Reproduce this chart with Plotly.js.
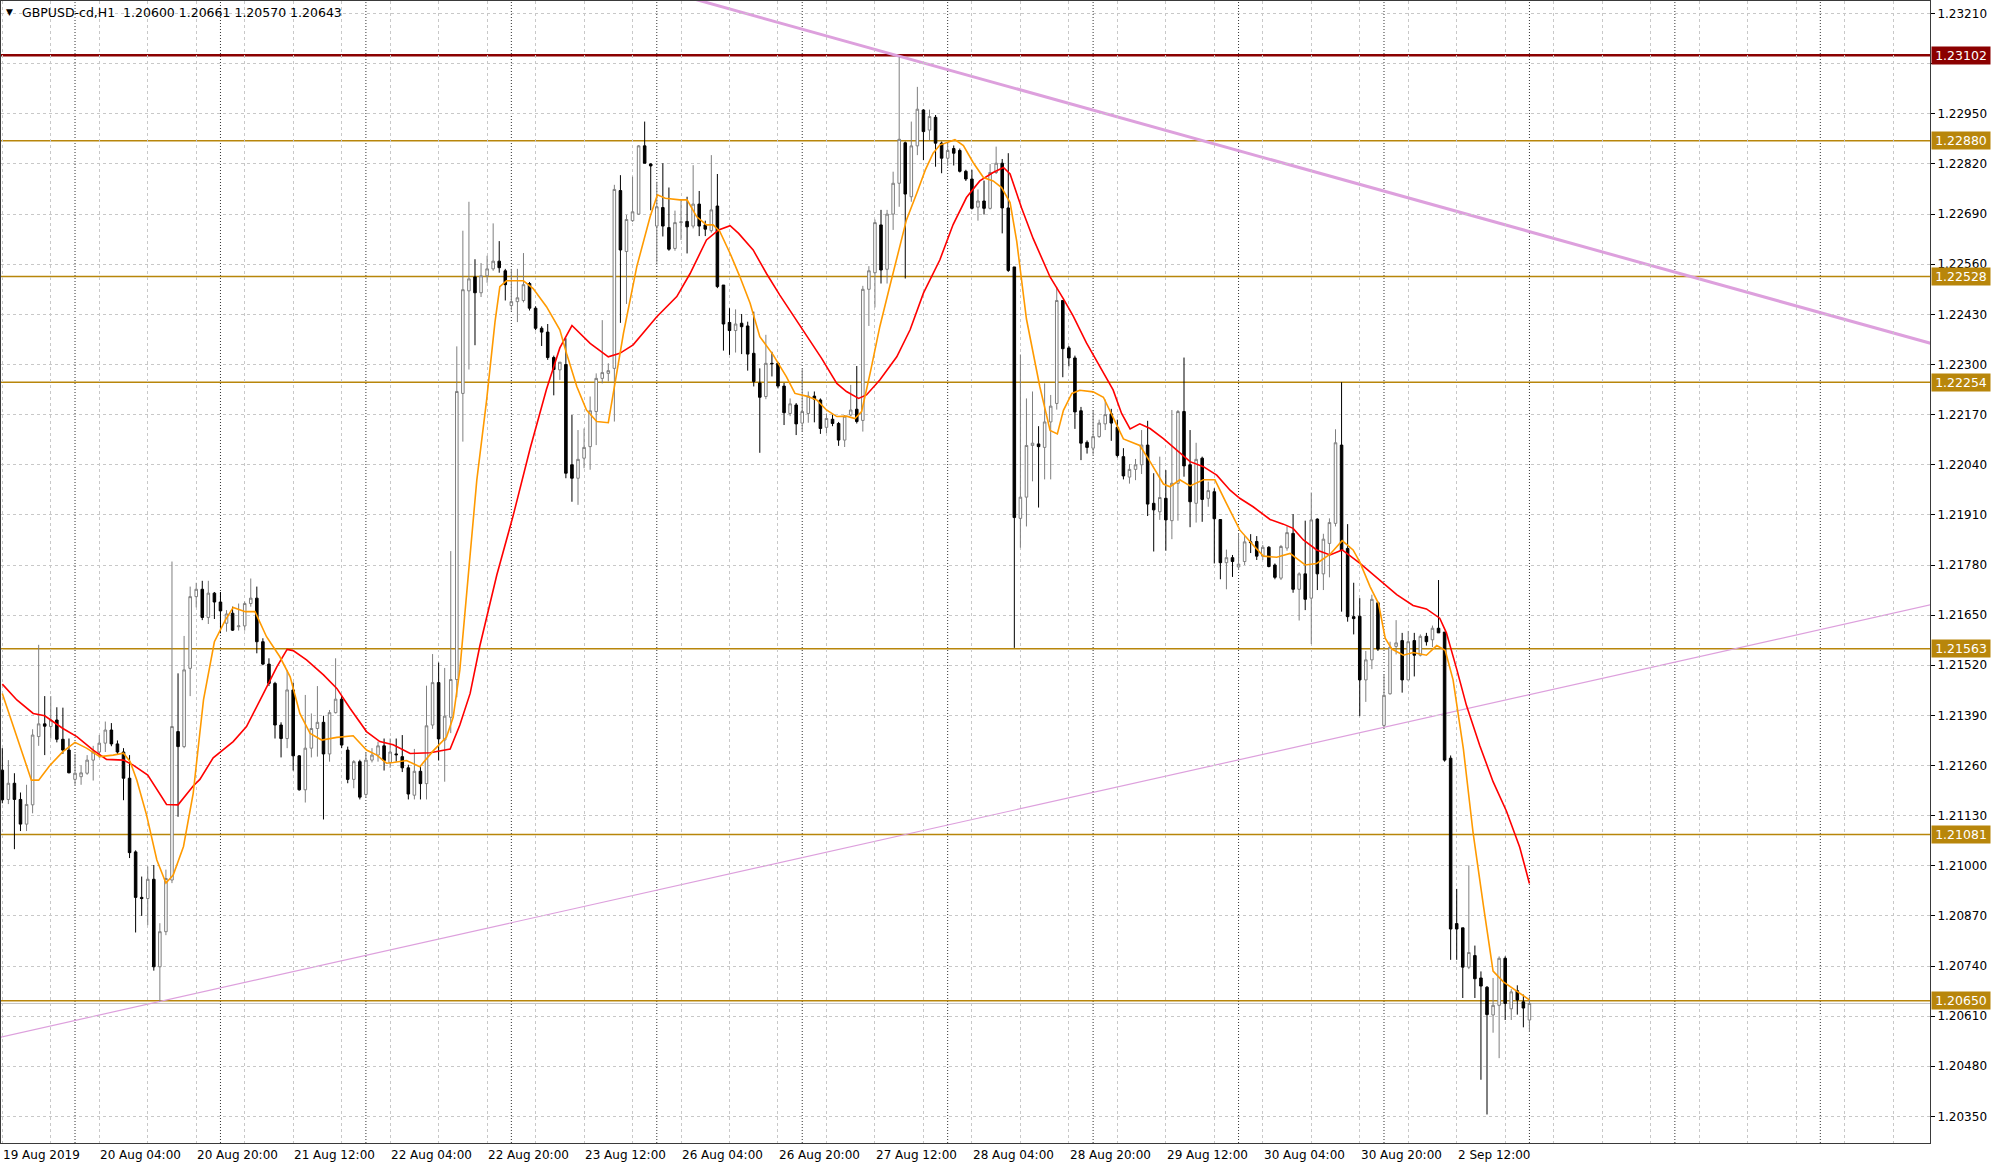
<!DOCTYPE html>
<html>
<head>
<meta charset="utf-8">
<script src="https://cdn.plot.ly/plotly-3.0.1.min.js"></script>
<style>
  html, body { margin: 0; padding: 0; background: #ffffff; }
  #chart { width: 2000px; height: 1169px; }
</style>
</head>
<body>
<div id="chart"></div>
<script>
// ---------------- DATA (GBPUSD-cd, H1; bar 0 = 19 Aug 2019 12:00) ----------------
const openPrices = [
1.21248,1.21172,1.21214,1.21172,1.21108,1.21158,1.21335,1.21368,1.21361,1.21378,
1.21328,1.21300,1.21224,1.21231,1.21240,1.21274,1.21295,1.21318,1.21352,1.21316,
1.21295,1.21227,1.21036,1.20918,1.20915,1.20965,1.20738,1.20829,1.20963,1.21348,
1.21309,1.21512,1.21698,1.21717,1.21644,1.21707,1.21684,1.21629,1.21655,1.21620,
1.21622,1.21680,1.21694,1.21581,1.21523,1.21473,1.21365,1.21330,1.21456,1.21285,
1.21197,1.21305,1.21356,1.21372,1.21290,1.21397,1.21432,1.21300,1.21224,1.21270,
1.21185,1.21274,1.21287,1.21311,1.21268,1.21290,1.21283,1.21254,1.21183,1.21245,
1.21213,1.21365,1.21475,1.21326,1.21385,1.21483,1.22225,1.22491,1.22527,1.22486,
1.22530,1.22548,1.22568,1.22543,1.22453,1.22463,1.22466,1.22510,1.22446,1.22394,
1.22384,1.22318,1.22286,1.22300,1.22040,1.22005,1.22057,1.22087,1.22178,1.22264,
1.22277,1.22290,1.22751,1.22593,1.22673,1.22690,1.22867,1.22820,1.22659,1.22707,
1.22655,1.22601,1.22668,1.22671,1.22659,1.22716,1.22662,1.22647,1.22711,1.22506,
1.22409,1.22388,1.22407,1.22400,1.22329,1.22252,1.22217,1.22303,1.22303,1.22244,
1.22173,1.22195,1.22148,1.22173,1.22218,1.22208,1.22137,1.22158,1.22147,1.22104,
1.22169,1.22184,1.22155,1.22495,1.22538,1.22662,1.22547,1.22690,1.22770,1.22875,
1.22735,1.22867,1.22960,1.22908,1.22941,1.22874,1.22835,1.22860,1.22855,1.22801,
1.22781,1.22708,1.22724,1.22705,1.22798,1.22822,1.22706,1.22553,1.21901,1.21956,
1.22090,1.22094,1.22085,1.22151,1.22199,1.22466,1.22343,1.22317,1.22180,1.22098,
1.22083,1.22113,1.22146,1.22172,1.22137,1.22061,1.22008,1.22028,1.22040,1.22091,
1.21940,1.21918,1.21953,1.21895,1.21992,1.22178,1.22040,1.21940,1.22057,1.21953,
1.21970,1.21898,1.21786,1.21799,1.21775,1.21789,1.21840,1.21841,1.21803,1.21826,
1.21780,1.21746,1.21824,1.21862,1.21717,1.21757,1.21694,1.21899,1.21757,1.21836,
1.21888,1.22091,1.21823,1.21646,1.21647,1.21482,1.21534,1.21682,1.21364,1.21446,
1.21569,1.21584,1.21482,1.21584,1.21546,1.21595,1.21586,1.21616,1.21606,1.21279,
1.20850,1.20839,1.20737,1.20767,1.20709,1.20685,1.20613,1.20638,1.20760,1.20629,
1.20676,1.20647,1.20600];

const highPrices = [
1.21305,1.21274,1.21240,1.21190,1.21210,1.21354,1.21573,1.21440,1.21440,1.21411,
1.21410,1.21330,1.21290,1.21260,1.21287,1.21311,1.21339,1.21374,1.21370,1.21325,
1.21305,1.21287,1.21040,1.20972,1.20998,1.21002,1.20851,1.20990,1.21789,1.21499,
1.21596,1.21724,1.21734,1.21739,1.21739,1.21710,1.21710,1.21663,1.21672,1.21680,
1.21685,1.21745,1.21724,1.21590,1.21538,1.21477,1.21372,1.21508,1.21475,1.21287,
1.21443,1.21395,1.21466,1.21389,1.21404,1.21538,1.21440,1.21309,1.21274,1.21275,
1.21293,1.21305,1.21322,1.21330,1.21330,1.21330,1.21339,1.21262,1.21303,1.21260,
1.21467,1.21549,1.21527,1.21513,1.21816,1.22347,1.22647,1.22722,1.22573,1.22563,
1.22582,1.22666,1.22620,1.22548,1.22548,1.22548,1.22589,1.22514,1.22451,1.22399,
1.22405,1.22323,1.22306,1.22368,1.22169,1.22130,1.22134,1.22217,1.22277,1.22415,
1.22303,1.22766,1.22791,1.22688,1.22787,1.22869,1.22930,1.22822,1.22774,1.22822,
1.22759,1.22699,1.22727,1.22735,1.22817,1.22750,1.22673,1.22843,1.22794,1.22506,
1.22446,1.22443,1.22431,1.22411,1.22437,1.22290,1.22377,1.22333,1.22307,1.22252,
1.22212,1.22200,1.22288,1.22230,1.22230,1.22212,1.22173,1.22170,1.22151,1.22169,
1.22247,1.22296,1.22504,1.22555,1.22676,1.22701,1.22701,1.22800,1.23097,1.22878,
1.22930,1.23020,1.22962,1.22961,1.22947,1.22878,1.22873,1.22868,1.22860,1.22805,
1.22805,1.22754,1.22777,1.22820,1.22865,1.22833,1.22848,1.22553,1.22326,1.22212,
1.22230,1.22140,1.22251,1.22221,1.22501,1.22466,1.22348,1.22323,1.22190,1.22103,
1.22181,1.22157,1.22209,1.22185,1.22157,1.22083,1.22042,1.22055,1.22130,1.22154,
1.22018,1.22061,1.22026,1.22182,1.22182,1.22318,1.22130,1.22097,1.22061,1.21996,
1.21979,1.21898,1.21820,1.21806,1.21862,1.21855,1.21860,1.21855,1.21832,1.21829,
1.21784,1.21832,1.21880,1.21912,1.21761,1.21895,1.21968,1.21901,1.21861,1.21901,
1.22132,1.22254,1.21886,1.21734,1.21694,1.21557,1.21703,1.21685,1.21496,1.21581,
1.21637,1.21604,1.21609,1.21604,1.21600,1.21604,1.21623,1.21741,1.21606,1.21286,
1.20940,1.20839,1.21001,1.20793,1.20726,1.20688,1.20709,1.20765,1.20765,1.20680,
1.20690,1.20666,1.20661];

const lowPrices = [
1.21162,1.21160,1.21043,1.21090,1.21090,1.21136,1.21311,1.21287,1.21330,1.21320,
1.21290,1.21240,1.21210,1.21210,1.21236,1.21221,1.21280,1.21295,1.21310,1.21290,
1.21170,1.21020,1.20827,1.20870,1.20846,1.20728,1.20648,1.20820,1.20955,1.21127,
1.21305,1.21440,1.21670,1.21637,1.21627,1.21640,1.21603,1.21607,1.21609,1.21610,
1.21610,1.21672,1.21551,1.21520,1.21466,1.21330,1.21281,1.21305,1.21247,1.21195,
1.21164,1.21281,1.21283,1.21120,1.21270,1.21395,1.21305,1.21214,1.21201,1.21172,
1.21178,1.21268,1.21270,1.21247,1.21254,1.21270,1.21243,1.21172,1.21172,1.21172,
1.21172,1.21355,1.21273,1.21218,1.21344,1.21437,1.22100,1.22287,1.22350,1.22475,
1.22512,1.22543,1.22538,1.22466,1.22440,1.22410,1.22461,1.22440,1.22389,1.22348,
1.22312,1.22220,1.22260,1.22005,1.21944,1.21936,1.22031,1.22027,1.22091,1.22251,
1.22256,1.22152,1.22408,1.22457,1.22670,1.22688,1.22822,1.22700,1.22564,1.22632,
1.22595,1.22595,1.22623,1.22588,1.22653,1.22633,1.22633,1.22642,1.22498,1.22336,
1.22325,1.22331,1.22327,1.22284,1.22243,1.22071,1.22210,1.22269,1.22238,1.22143,
1.22166,1.22117,1.22126,1.22149,1.22150,1.22120,1.22122,1.22140,1.22089,1.22086,
1.22166,1.22147,1.22126,1.22400,1.22448,1.22510,1.22510,1.22649,1.22709,1.22523,
1.22722,1.22843,1.22830,1.22882,1.22813,1.22796,1.22815,1.22816,1.22798,1.22776,
1.22702,1.22673,1.22689,1.22702,1.22794,1.22640,1.22540,1.21565,1.21825,1.21880,
1.21997,1.21929,1.22002,1.22002,1.22183,1.22267,1.22295,1.22133,1.22052,1.22069,
1.22066,1.22110,1.22130,1.22102,1.22059,1.22002,1.21991,1.22000,1.22016,1.21907,
1.21815,1.21897,1.21817,1.21847,1.21895,1.22009,1.21878,1.21890,1.21892,1.21931,
1.21784,1.21743,1.21717,1.21749,1.21767,1.21780,1.21811,1.21793,1.21793,1.21774,
1.21743,1.21741,1.21817,1.21708,1.21636,1.21663,1.21575,1.21715,1.21715,1.21748,
1.21880,1.21659,1.21633,1.21600,1.21388,1.21425,1.21510,1.21557,1.21359,1.21444,
1.21548,1.21449,1.21482,1.21491,1.21543,1.21571,1.21567,1.21604,1.21270,1.20756,
1.20756,1.20657,1.20732,1.20657,1.20445,1.20355,1.20567,1.20501,1.20600,1.20600,
1.20614,1.20581,1.20570];

const closePrices = [
1.21171,1.21214,1.21172,1.21108,1.21159,1.21339,1.21368,1.21362,1.21378,1.21328,
1.21300,1.21241,1.21240,1.21241,1.21274,1.21295,1.21318,1.21352,1.21316,1.21295,
1.21227,1.21034,1.20918,1.20915,1.20965,1.20738,1.20829,1.20967,1.21361,1.21309,
1.21508,1.21698,1.21717,1.21644,1.21707,1.21684,1.21661,1.21653,1.21611,1.21622,
1.21680,1.21694,1.21581,1.21523,1.21473,1.21365,1.21330,1.21456,1.21285,1.21197,
1.21305,1.21356,1.21372,1.21290,1.21397,1.21432,1.21313,1.21224,1.21270,1.21178,
1.21274,1.21287,1.21311,1.21273,1.21295,1.21288,1.21254,1.21186,1.21245,1.21213,
1.21363,1.21475,1.21329,1.21388,1.21483,1.22230,1.22494,1.22522,1.22486,1.22530,
1.22548,1.22568,1.22551,1.22507,1.22463,1.22473,1.22507,1.22446,1.22394,1.22384,
1.22318,1.22287,1.22306,1.22018,1.22005,1.22054,1.22085,1.22180,1.22264,1.22279,
1.22284,1.22754,1.22597,1.22676,1.22696,1.22867,1.22822,1.22815,1.22709,1.22659,
1.22599,1.22668,1.22670,1.22657,1.22716,1.22659,1.22651,1.22701,1.22502,1.22405,
1.22388,1.22405,1.22398,1.22327,1.22256,1.22215,1.22303,1.22302,1.22244,1.22175,
1.22198,1.22146,1.22178,1.22218,1.22210,1.22134,1.22160,1.22147,1.22104,1.22166,
1.22182,1.22152,1.22495,1.22543,1.22668,1.22545,1.22690,1.22770,1.22884,1.22742,
1.22867,1.22962,1.22904,1.22943,1.22874,1.22835,1.22855,1.22848,1.22801,1.22781,
1.22705,1.22724,1.22705,1.22798,1.22822,1.22706,1.22544,1.21903,1.21956,1.22090,
1.22096,1.22087,1.22151,1.22192,1.22466,1.22341,1.22317,1.22177,1.22096,1.22085,
1.22113,1.22148,1.22170,1.22148,1.22064,1.22011,1.22028,1.22040,1.22091,1.21938,
1.21923,1.21955,1.21897,1.21992,1.22178,1.22037,1.21944,1.22054,1.21950,1.21973,
1.21900,1.21786,1.21799,1.21789,1.21782,1.21840,1.21838,1.21803,1.21826,1.21776,
1.21748,1.21828,1.21864,1.21717,1.21757,1.21691,1.21897,1.21757,1.21847,1.21890,
1.22097,1.21819,1.21646,1.21641,1.21482,1.21534,1.21691,1.21562,1.21442,1.21567,
1.21578,1.21482,1.21581,1.21546,1.21595,1.21581,1.21616,1.21604,1.21274,1.20836,
1.20836,1.20737,1.20775,1.20707,1.20688,1.20614,1.20638,1.20760,1.20643,1.20673,
1.20652,1.20631,1.20643];

// fast moving average (orange): bar index / value
const fastMABars = [0,1.3,2.9,4.8,6,7.9,10,12,13.9,16.1,18.3,20,21.1,22.2,23.8,25.5,27,28.2,29.9,31.5,
32.6,33.2,35,36.8,38.1,40.1,41.7,43.6,45.8,47.5,49.1,50.8,52.7,55.2,57.9,60.1,61.8,63.4,64.5,66.7,
68.9,71.1,73.3,74.4,75.5,76.9,78.3,79.9,81.3,82.1,83.2,86,87.6,89.8,92,93.1,94.8,96.4,98.1,100,
101.1,102.5,104.7,106.9,108.1,109.4,111.8,113,114.6,116.2,117.3,118.4,120.1,121.7,123.4,125,127.2,129.4,130.8,132.7,
134.4,136,137.7,139.3,140.7,141.8,143.2,144.8,146.5,148.1,149.2,150.9,152.3,153.6,154.7,157.2,158.6,160.2,161.9,163.5,
164.9,166.3,167.4,169,171.2,172.9,174.1,175.1,176.5,177.8,180,181.7,183.3,185,187.7,189.4,191.6,192.7,194.3,196,
198.2,200.1,202,204.2,206.4,208.1,210.3,212.5,215,216.9,219.1,221.1,222.9,224,225.7,227.1,228.2,229.3,231.2,232.8,
235,236.7,238.1,239.4,241.1,242.7,244.4,246,247.7,249.9,252];
const fastMAValues = [1.21447,1.21387,1.21309,1.21222,1.21222,1.21261,1.21296,1.21320,1.21305,1.21283,1.21287,1.21292,1.21270,1.21222,1.21132,1.21015,1.20955,1.20976,1.21050,1.21188,
1.21345,1.21430,1.21581,1.21637,1.21670,1.21659,1.21659,1.21594,1.21542,1.21490,1.21395,1.21343,1.21326,1.21333,1.21337,1.21300,1.21287,1.21266,1.21268,1.21273,
1.21257,1.21298,1.21334,1.21385,1.21508,1.21754,1.22000,1.22205,1.22410,1.22502,1.22517,1.22517,1.22497,1.22450,1.22390,1.22329,1.22243,1.22182,1.22152,1.22149,
1.22251,1.22381,1.22554,1.22683,1.22740,1.22731,1.22727,1.22727,1.22683,1.22662,1.22662,1.22645,1.22588,1.22528,1.22459,1.22372,1.22325,1.22268,1.22225,1.22218,
1.22208,1.22182,1.22165,1.22166,1.22160,1.22178,1.22277,1.22398,1.22506,1.22606,1.22675,1.22744,1.22804,1.22848,1.22869,1.22883,1.22868,1.22824,1.22785,1.22776,
1.22759,1.22720,1.22619,1.22418,1.22243,1.22129,1.22120,1.22181,1.22225,1.22233,1.22229,1.22215,1.22164,1.22107,1.22090,1.22048,1.21990,1.21983,1.22001,1.21985,
1.22001,1.22001,1.21940,1.21871,1.21832,1.21803,1.21800,1.21810,1.21780,1.21784,1.21808,1.21843,1.21819,1.21788,1.21724,1.21680,1.21590,1.21562,1.21546,1.21553,
1.21546,1.21571,1.21559,1.21482,1.21303,1.21086,1.20897,1.20727,1.20699,1.20676,1.20652];

// slow moving average (red)
const slowMABars = [0,2.4,5.1,7,10,12.3,15,17.2,20,21.6,24,26,27.1,29,30.4,31.5,32.6,34.8,38.1,40.3,
43.1,45.3,47,48,50.2,53,55.2,57.4,60.1,62.3,64.5,67.3,70.6,73.9,75.5,77.2,78.8,81.6,84.3,87.1,
89.8,92,94,97,100,101.9,104.1,108,111.3,113.5,116.2,118.2,120.1,121.5,123.9,126.1,128.3,130.5,132.7,135.2,
137.7,139.3,141.3,142.6,144.8,147.6,149.8,152,154.7,156.9,159.1,161.3,163.5,165.2,166.3,168.2,170.1,172.9,175.1,176.7,
178.9,181.1,183.3,184.7,186.1,187.7,189.4,191.6,193.8,196,198.2,200.4,202.6,204.2,206.4,209.2,211.4,213,214.7,216.9,
219.1,221.1,224,227.3,230.1,232.8,235,237.2,238.3,240,241.6,243.8,246,248.2,250.4,252];
const slowMAValues = [1.21471,1.21430,1.21395,1.21389,1.21356,1.21335,1.21300,1.21276,1.21274,1.21261,1.21235,1.21188,1.21159,1.21158,1.21184,1.21207,1.21224,1.21280,1.21322,1.21361,
1.21447,1.21516,1.21561,1.21558,1.21534,1.21495,1.21460,1.21408,1.21348,1.21322,1.21314,1.21291,1.21293,1.21303,1.21365,1.21447,1.21570,1.21754,1.21908,1.22082,
1.22236,1.22343,1.22401,1.22355,1.22320,1.22329,1.22351,1.22424,1.22476,1.22536,1.22623,1.22649,1.22660,1.22640,1.22597,1.22536,1.22480,1.22428,1.22377,1.22316,
1.22251,1.22230,1.22212,1.22221,1.22260,1.22320,1.22390,1.22485,1.22571,1.22663,1.22733,1.22776,1.22798,1.22811,1.22794,1.22706,1.22627,1.22527,1.22470,1.22426,
1.22356,1.22295,1.22234,1.22173,1.22133,1.22146,1.22134,1.22108,1.22078,1.22048,1.22035,1.22013,1.21974,1.21953,1.21931,1.21898,1.21886,1.21875,1.21845,1.21819,
1.21806,1.21819,1.21785,1.21741,1.21703,1.21675,1.21666,1.21642,1.21604,1.21510,1.21416,1.21312,1.21218,1.21142,1.21048,1.20954];

// horizontal levels drawn on the chart
const levelPrices = [1.23102, 1.22880, 1.22528, 1.22254, 1.21563, 1.21081, 1.20650];
const levelIsMajor = [true, false, false, false, false, false, false];
const bidPrice = 1.20643;

// trend lines (bar index, price)
const trendUpperBars = [110, 320];
const trendUpperPrices = [1.23266, 1.22347];
const trendLowerBars = [-1, 320];
const trendLowerPrices = [1.20553, 1.21683];

// price scale ticks
const priceTicks = [1.20350,1.20480,1.20610,1.20740,1.20870,1.21000,1.21130,1.21260,1.21390,1.21520,1.21650,
  1.21780,1.21910,1.22040,1.22170,1.22300,1.22430,1.22560,1.22690,1.22820,1.22950,1.23080,1.23210];
const priceTickText = ['1.20350','1.20480','1.20610','1.20740','1.20870','1.21000','1.21130','1.21260','1.21390','1.21520','1.21650',
  '1.21780','1.21910','1.22040','1.22170','1.22300','1.22430','1.22560','1.22690','1.22820','1.22950','','1.23210'];

// time scale labels (bar index)
const timeLabelBars = [0,16,32,48,64,80,96,112,128,144,160,176,192,208,224,240];
const timeLabels = ['19 Aug 2019','20 Aug 04:00','20 Aug 20:00','21 Aug 12:00','22 Aug 04:00','22 Aug 20:00',
  '23 Aug 12:00','26 Aug 04:00','26 Aug 20:00','27 Aug 12:00','28 Aug 04:00','28 Aug 20:00','29 Aug 12:00',
  '30 Aug 04:00','30 Aug 20:00','2 Sep 12:00'];
const daySeparatorBars = [12,36,60,84,108,132,156,180,204,228,252,276,300];
const gridBars = [0,8,16,24,32,40,48,56,64,72,80,88,96,104,112,120,128,136,144,152,160,168,176,184,192,200,
  208,216,224,232,240,248,256,264,272,280,288,296,304,312];

const titleText = 'GBPUSD-cd,H1  1.20600 1.20661 1.20570 1.20643';

// ---------------- CHART ----------------
const barIndex = openPrices.map((_, i) => i);
const FONT = 'DejaVu Sans, Verdana, sans-serif';

const traces = [
  {
    type: 'candlestick',
    x: barIndex, open: openPrices, high: highPrices, low: lowPrices, close: closePrices,
    increasing: { line: { color: '#7f7f7f', width: 1 }, fillcolor: '#ffffff' },
    decreasing: { line: { color: '#000000', width: 1 }, fillcolor: '#000000' },
    whiskerwidth: 0,
    hoverinfo: 'skip'
  },
  {
    type: 'scatter', mode: 'lines', x: slowMABars, y: slowMAValues,
    line: { color: '#ff0000', width: 1.6 }, hoverinfo: 'skip'
  },
  {
    type: 'scatter', mode: 'lines', x: fastMABars, y: fastMAValues,
    line: { color: '#ff9a00', width: 1.6 }, hoverinfo: 'skip'
  }
];

const shapes = [];
daySeparatorBars.forEach(b => shapes.push({
  type: 'line', xref: 'x', yref: 'paper', x0: b, x1: b, y0: 0, y1: 1,
  line: { color: '#333333', width: 1, dash: '1px,2px' }, layer: 'below'
}));
shapes.push({
  type: 'line', xref: 'paper', yref: 'y', x0: 0, x1: 1, y0: bidPrice, y1: bidPrice,
  line: { color: '#c0c0c0', width: 1 }, layer: 'below'
});
levelPrices.forEach((p, i) => shapes.push({
  type: 'line', xref: 'paper', yref: 'y', x0: 0, x1: 1, y0: p, y1: p,
  line: { color: levelIsMajor[i] ? '#8b0000' : '#b8860b', width: levelIsMajor[i] ? 2.5 : 1.5 },
  layer: 'below'
}));
shapes.push({
  type: 'line', xref: 'x', yref: 'y',
  x0: trendUpperBars[0], x1: trendUpperBars[1], y0: trendUpperPrices[0], y1: trendUpperPrices[1],
  line: { color: '#dda0dd', width: 3 }, layer: 'below'
});
shapes.push({
  type: 'line', xref: 'x', yref: 'y',
  x0: trendLowerBars[0], x1: trendLowerBars[1], y0: trendLowerPrices[0], y1: trendLowerPrices[1],
  line: { color: '#dda0dd', width: 1.2 }, layer: 'below'
});

const annotations = [];
timeLabelBars.forEach((b, i) => annotations.push({
  xref: 'x', yref: 'paper', x: b, y: 0, xanchor: 'left', yanchor: 'top',
  xshift: -1, yshift: -3, showarrow: false, text: timeLabels[i],
  font: { family: FONT, size: 12, color: '#000000' }
}));
levelPrices.forEach((p, i) => annotations.push({
  xref: 'paper', yref: 'y', x: 1, y: p, xanchor: 'left', yanchor: 'middle',
  xshift: 1, showarrow: false, text: p.toFixed(5),
  bgcolor: levelIsMajor[i] ? '#8b0000' : '#b8860b', borderpad: 1, width: 56, height: 15,
  font: { family: FONT, size: 12.5, color: '#ffffff' }
}));
annotations.push({
  xref: 'paper', yref: 'paper', x: 0, y: 1, xanchor: 'left', yanchor: 'top',
  xshift: 3, yshift: -4, showarrow: false, text: '▼',
  font: { family: FONT, size: 9, color: '#000000' }
});
annotations.push({
  xref: 'paper', yref: 'paper', x: 0, y: 1, xanchor: 'left', yanchor: 'top',
  xshift: 19, yshift: -2, showarrow: false, text: titleText,
  font: { family: FONT, size: 12.5, color: '#000000' }
});

const layout = {
  width: 2000, height: 1169,
  margin: { l: 1, r: 70, t: 1, b: 26 },
  paper_bgcolor: '#ffffff', plot_bgcolor: '#ffffff',
  showlegend: false,
  boxgap: 0.4,
  hovermode: false,
  xaxis: {
    type: 'linear',
    range: [-0.215, 318.1],
    tickmode: 'array', tickvals: gridBars, showticklabels: false, ticks: '',
    showgrid: true, gridcolor: '#c8c8c8', gridwidth: 1, griddash: '3px,3px',
    zeroline: false, showline: true, linecolor: '#3a3a3a', linewidth: 1, mirror: true,
    rangeslider: { visible: false }, fixedrange: true
  },
  yaxis: {
    side: 'right',
    range: [1.20281, 1.232427],
    tickmode: 'array', tickvals: priceTicks, ticktext: priceTickText,
    ticks: 'outside', ticklen: 4, tickcolor: '#000000',
    tickfont: { family: FONT, size: 12, color: '#000000' },
    showgrid: true, gridcolor: '#c8c8c8', gridwidth: 1, griddash: '3px,3px',
    zeroline: false, showline: true, linecolor: '#3a3a3a', linewidth: 1, mirror: true,
    fixedrange: true
  },
  shapes: shapes,
  annotations: annotations
};

Plotly.newPlot('chart', traces, layout, { staticPlot: true, displayModeBar: false });
</script>
</body>
</html>
